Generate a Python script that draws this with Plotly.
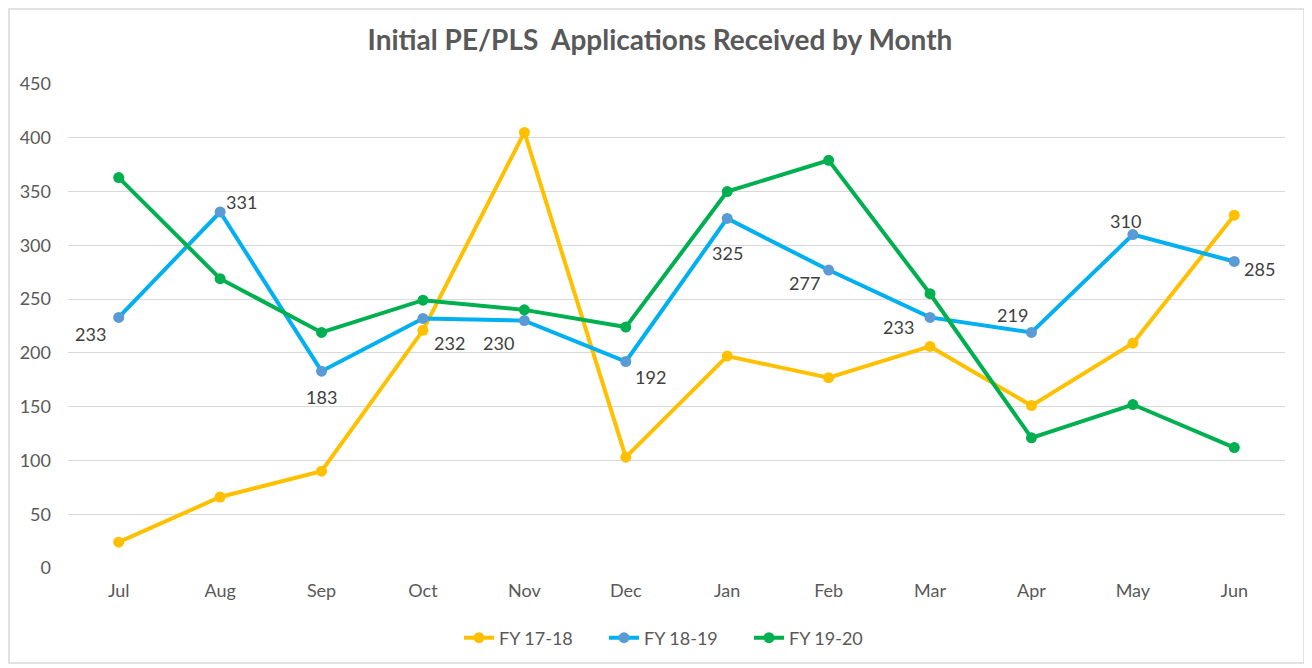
import plotly.graph_objects as go

months = ["Jul", "Aug", "Sep", "Oct", "Nov", "Dec", "Jan", "Feb", "Mar", "Apr", "May", "Jun"]
fy1718 = [24, 66, 90, 221, 405, 103, 197, 177, 206, 151, 209, 328]
fy1819 = [233, 331, 183, 232, 230, 192, 325, 277, 233, 219, 310, 285]
fy1920 = [363, 269, 219, 249, 240, 224, 350, 379, 255, 121, 152, 112]

# pixel offsets of the FY 18-19 data labels relative to their points (dx right, dy up)
label_dx = [-28, 21, 0, 27, -26, 25, 0, -24, -32, -19, -7, 25]
label_dy = [-17, 10, -26, -25, -22, -16, -35, -13, -10, 17, 14, -8]

FONT = "Lato, 'Open Sans', sans-serif"

# page body has an 8px margin, so the figure is sized to fit the window
W, H = 1304, 660
ML, MR, MT, MB = 60, 27, 76, 100
PW, PH = W - ML - MR, H - MT - MB

fig = go.Figure()
fig.add_trace(go.Scatter(
    x=months, y=fy1718, name="FY 17-18", mode="lines+markers",
    line=dict(color="#FFC000", width=4), marker=dict(color="#FFC000", size=11),
))
fig.add_trace(go.Scatter(
    x=months, y=fy1819, name="FY 18-19", mode="lines+markers",
    line=dict(color="#00B0F0", width=4), marker=dict(color="#5B9BD5", size=11),
))
fig.add_trace(go.Scatter(
    x=months, y=fy1920, name="FY 19-20", mode="lines+markers",
    line=dict(color="#00B050", width=4), marker=dict(color="#00B050", size=11),
))

annotations = [
    dict(x=m, y=v, xref="x", yref="y", text=str(v), showarrow=False,
         xshift=dx, yshift=dy, font=dict(size=18, color="#404040", family=FONT))
    for m, v, dx, dy in zip(months, fy1819, label_dx, label_dy)
]

fig.update_layout(
    width=W, height=H,
    margin=dict(l=ML, r=MR, t=MT, b=MB),
    paper_bgcolor="white", plot_bgcolor="white",
    font=dict(family=FONT, color="#595959", size=18),
    title=dict(text="<b>Initial PE/PLS  Applications Received by Month</b>",
               x=0.5, xanchor="center", y=1 - 32 / H, yanchor="middle",
               font=dict(size=28, color="#595959", family=FONT)),
    showlegend=True,
    legend=dict(orientation="h", x=0.5, xanchor="center", y=-70 / PH, yanchor="middle",
                font=dict(size=18, color="#595959"), traceorder="normal",
                entrywidth=100, entrywidthmode="pixels"),
    xaxis=dict(type="category", range=[-0.5, 11.5], showgrid=False, zeroline=False,
               showline=False, ticks="", tickfont=dict(size=18, color="#595959"),
               ticklabelstandoff=10),
    yaxis=dict(range=[0, 450], dtick=50, showgrid=True, gridcolor="#D9D9D9", gridwidth=1.3,
               zeroline=False, showline=False, ticks="",
               tickfont=dict(size=18, color="#595959"), ticklabelstandoff=16),
    annotations=annotations,
    shapes=[dict(type="rect", xref="paper", yref="paper",
                 x0=-(ML - 1) / PW, x1=1 + (MR - 8) / PW, y0=-(MB - 5) / PH, y1=1 + (MT - 1) / PH,
                 line=dict(color="#D9D9D9", width=1.5), fillcolor="rgba(0,0,0,0)", layer="below")],
)

fig.write_html("out.html")
